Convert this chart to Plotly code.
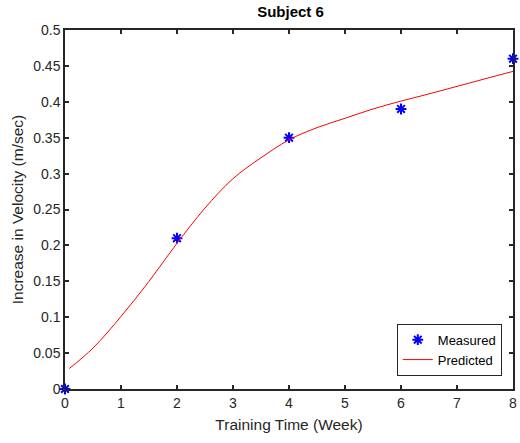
import plotly.graph_objects as go

weeks = [0, 2, 4, 6, 8]
measured = [0.0, 0.21, 0.35, 0.39, 0.46]

pred_x = [0.077, 0.5, 1, 1.5, 2, 2.5, 3, 3.5, 4, 4.5, 5, 5.5, 6, 6.5, 7, 7.5, 8]
pred_y = [0.0285, 0.057, 0.101, 0.150, 0.203, 0.252, 0.293, 0.322, 0.347,
          0.364, 0.377, 0.390, 0.401, 0.411, 0.4215, 0.432, 0.4424]

x_ticks = [0, 1, 2, 3, 4, 5, 6, 7, 8]
y_ticks = [0, 0.05, 0.1, 0.15, 0.2, 0.25, 0.3, 0.35, 0.4, 0.45, 0.5]
y_labels = ["0", "0.05", "0.1", "0.15", "0.2", "0.25", "0.3", "0.35", "0.4", "0.45", "0.5"]

FONT = "Liberation Sans, Arial"

fig = go.Figure()
fig.add_trace(go.Scatter(
    x=weeks, y=measured, mode="markers", name="Measured",
    marker=dict(symbol="asterisk-open", size=9, color="blue",
                line=dict(color="blue", width=2)),
    cliponaxis=False,
))
fig.add_trace(go.Scatter(
    x=pred_x, y=pred_y, mode="lines", name="Predicted",
    line=dict(color="red", width=1, shape="spline", smoothing=1.0),
))

axis_common = dict(
    showgrid=False, zeroline=False, showline=True, linecolor="#262626",
    linewidth=1.5, mirror="ticks", ticks="inside", ticklen=4, tickwidth=1.5,
    tickcolor="#262626", tickfont=dict(family=FONT, size=14, color="#262626"),
)

fig.update_layout(
    width=520, height=443,
    margin=dict(l=65, r=3, t=29.5, b=53.5),
    paper_bgcolor="white", plot_bgcolor="white",
    title=dict(text="<b>Subject 6</b>", x=(65 + 516) / 2 / 520, xanchor="center",
               y=1 - 12 / 443, yanchor="middle",
               font=dict(family=FONT, size=15, color="black")),
    xaxis=dict(range=[0, 8], tickvals=x_ticks,
               title=dict(text="Training Time (Week)", standoff=10,
                          font=dict(family=FONT, size=15.5, color="#262626")),
               **axis_common),
    yaxis=dict(range=[0, 0.5], tickvals=y_ticks, ticktext=y_labels,
               title=dict(text="Increase in Velocity (m/sec)", standoff=6,
                          font=dict(family=FONT, size=15.5, color="#262626")),
               **axis_common),
    legend=dict(x=0.975, xanchor="right", y=0.037, yanchor="bottom",
                bgcolor="white", bordercolor="#262626", borderwidth=1,
                font=dict(family=FONT, size=13, color="black"),
                tracegroupgap=0, itemwidth=30),
    showlegend=True,
)

fig.write_html("out.html")
